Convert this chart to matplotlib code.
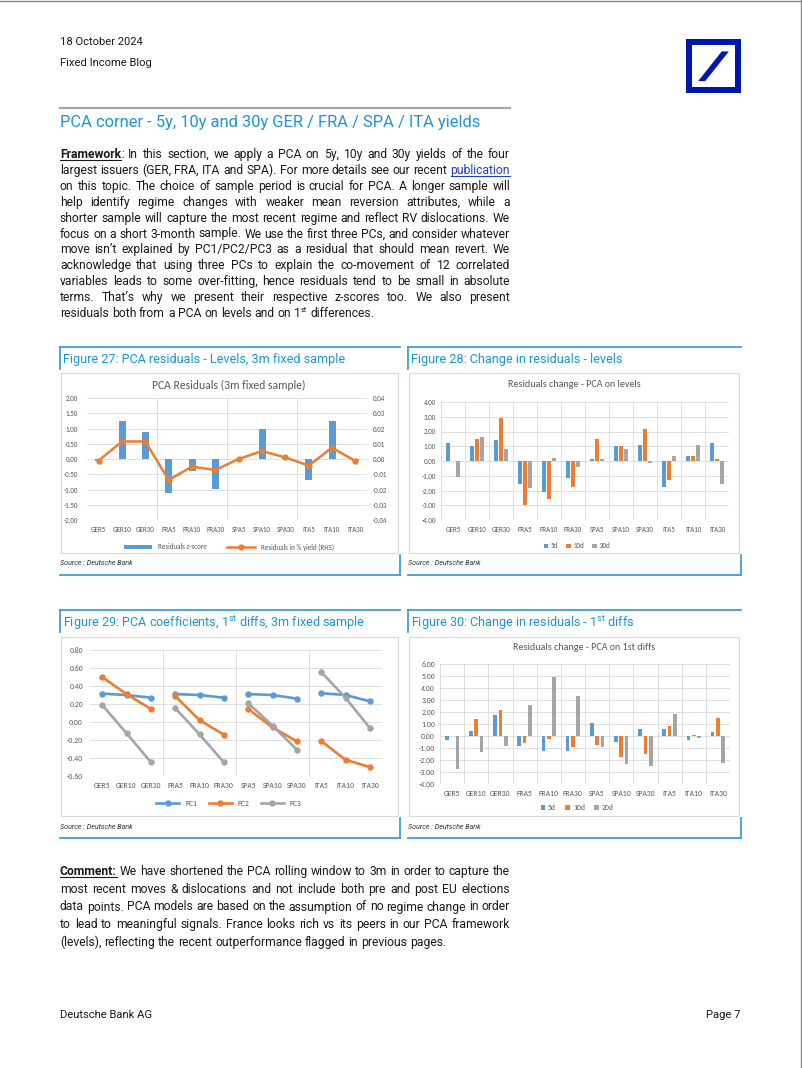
import numpy as np
import matplotlib
matplotlib.use("Agg")
import matplotlib.pyplot as plt
from matplotlib import font_manager as fm
from matplotlib.lines import Line2D
from matplotlib.patches import Rectangle, Polygon
from matplotlib.ticker import FormatStrFormatter

# ---- data ----
cats = ["GER5", "GER10", "GER30", "FRA5", "FRA10", "FRA30",
        "SPA5", "SPA10", "SPA30", "ITA5", "ITA10", "ITA30"]

# Figure 27
z_score = [-0.08, 1.24, 0.89, -1.13, -0.39, -0.98, 0.01, 0.99, 0.08, -0.68, 1.26, -0.08]
resid_yield = [-0.001, 0.0115, 0.0115, -0.0137, -0.005, -0.0072,
               0.0, 0.0052, 0.001, -0.0043, 0.0074, -0.0013]

# Figure 28
lvl_5d = [1.24, 1.02, 1.40, -1.58, -2.12, -1.18, 0.15, 1.02, 1.08, -1.74, 0.34, 1.24]
lvl_10d = [0.0, 1.47, 2.94, -2.98, -2.55, -1.74, 1.49, 1.02, 2.15, -1.29, 0.32, 0.15]
lvl_20d = [-1.06, 1.60, 0.81, -1.83, 0.23, -0.41, 0.15, 0.81, -0.15, 0.32, 1.08, -1.58]

# Figure 29
pc1 = [0.315, 0.30, 0.27, 0.31, 0.30, 0.27, 0.31, 0.30, 0.26, 0.32, 0.30, 0.23]
pc2 = [0.50, 0.31, 0.145, 0.29, 0.02, -0.14, 0.145, -0.06, -0.215, -0.21, -0.42, -0.50]
pc3 = [0.19, -0.125, -0.445, 0.155, -0.137, -0.448, 0.21, -0.04, -0.307, 0.555, 0.27, -0.067]

# Figure 30
d1_5d = [-0.36, 0.39, 1.76, -0.84, -1.26, -1.28, 1.12, -0.53, 0.61, 0.59, -0.36, 0.34]
d1_10d = [0.0, 1.40, 2.18, -0.56, -0.22, -0.95, -0.73, -1.79, -1.51, 0.81, 0.05, 1.54]
d1_20d = [-2.71, -1.31, -0.81, 2.57, 4.94, 3.35, -0.95, -2.32, -2.49, 1.82, -0.17, -2.26]

para1 = [
    "*Framework*: In this section, we apply a PCA on 5y, 10y and 30y yields of the four",
    "largest issuers (GER, FRA, ITA and SPA). For more details see our recent _publication_",
    "on this topic. The choice of sample period is crucial for PCA. A longer sample will",
    "help identify regime changes with weaker mean reversion attributes, while a",
    "shorter sample will capture the most recent regime and reflect RV dislocations. We",
    "focus on a short 3-month sample. We use the first three PCs, and consider whatever",
    "move isn\u2019t explained by PC1/PC2/PC3 as a residual that should mean revert. We",
    "acknowledge that using three PCs to explain the co-movement of 12 correlated",
    "variables leads to some over-fitting, hence residuals tend to be small in absolute",
    "terms. That\u2019s why we present their respective z-scores too. We also present",
    "residuals both from a PCA on levels and on 1^st differences.",
]
para2 = [
    "*Comment:* We have shortened the PCA rolling window to 3m in order to capture the",
    "most recent moves & dislocations and not include both pre and post EU elections",
    "data points. PCA models are based on the assumption of no regime change in order",
    "to lead to meaningful signals. France looks rich vs its peers in our PCA framework",
    "(levels), reflecting the recent outperformance flagged in previous pages.",
]

# ---- fonts / colours ----
names = {f.name for f in fm.fontManager.ttflist}
BODY = "Liberation Sans Narrow" if "Liberation Sans Narrow" in names else "Roboto"
CHART = "Carlito" if "Carlito" in names else "Lato"
plt.rcParams["font.family"] = [CHART, "DejaVu Sans"]
plt.rcParams["mathtext.fontset"] = "custom"
plt.rcParams["mathtext.rm"] = BODY
plt.rcParams["mathtext.it"] = BODY + ":italic"
plt.rcParams["mathtext.bf"] = BODY + ":bold"

DB_BLUE = "#0018A8"
ACCENT = "#1B95D3"
LINE_BLUE = "#3A9FD8"
LINK = "#1F3BD1"
TXT = "#1a1a1a"
GRID = "#D9D9D9"
TICK = "#595959"
C1, C2, C3 = "#5B9BD5", "#ED7D31", "#A5A5A5"

W, H = 802, 1068
fig = plt.figure(figsize=(W / 100, H / 100), dpi=100)
renderer = fig.canvas.get_renderer()


def fx(x):
    return x / W


def fy(y):
    return 1 - y / H


def seg_line(x0, y0, x1, y1, color, lw):
    fig.add_artist(Line2D([fx(x0), fx(x1)], [fy(y0), fy(y1)],
                          transform=fig.transFigure, color=color, lw=lw))


def width_of(t):
    return t.get_window_extent(renderer).width


def size_for(s, width, **kw):
    t = fig.text(0, 0, s, fontsize=10, **kw)
    w = width_of(t)
    t.remove()
    return 10 * width / w


def axes_px(x0, y0, x1, y1):
    return fig.add_axes([fx(x0), fy(y1), (x1 - x0) / W, (y1 - y0) / H])


# ---- justified paragraphs ----
def parse_word(w):
    if w.startswith("*"):
        core, rest = w[1:].split("*")
        segs = [(core, "bold_ul")]
        if rest:
            segs.append((rest, ""))
        return segs
    if w.startswith("_"):
        return [(w.strip("_"), "link")]
    if "^" in w:
        a, b = w.split("^")
        return [(a, ""), (b, "sup")]
    return [(w, "")]


def plain(line):
    return line.replace("*", "").replace("_", "").replace("^", "")


def draw_para(lines, x0, x1, y_first, lh, size):
    p1 = fig.text(0, 0, "a a", family=BODY, fontsize=size)
    p2 = fig.text(0, 0, "aa", family=BODY, fontsize=size)
    space = width_of(p1) - width_of(p2)
    p1.remove()
    p2.remove()
    for i, line in enumerate(lines):
        yb = y_first + i * lh
        words = []
        for w in line.split():
            segs = []
            for s, st in parse_word(w):
                kw = dict(family=BODY, color=TXT, va="baseline", ha="left", fontsize=size)
                if st == "bold_ul":
                    kw["fontweight"] = "bold"
                if st == "link":
                    kw["color"] = LINK
                if st == "sup":
                    kw["fontsize"] = size * 0.6
                t = fig.text(0, 0, s, **kw)
                segs.append((t, width_of(t), st))
            words.append(segs)
        widths = [sum(s[1] for s in segs) for segs in words]
        if i == len(lines) - 1:
            gap = space
        else:
            gap = (x1 - x0 - sum(widths)) / (len(words) - 1)
        x = x0
        for segs, ww in zip(words, widths):
            for t, w, st in segs:
                dy = -size * 0.42 * 100 / 72 if st == "sup" else 0
                t.set_position((fx(x), fy(yb + dy)))
                if st in ("bold_ul", "link"):
                    c = LINK if st == "link" else TXT
                    seg_line(x, yb + 2, x + w, yb + 2, c, 0.8)
                x += w
            x += gap


# body size: widest full line just fits 450 px
maxw = 0
for ln in para1[:-1] + para2[:-1]:
    t = fig.text(0, 0, plain(ln), family=BODY, fontsize=10)
    maxw = max(maxw, width_of(t))
    t.remove()
body_size = 10 * 450 / maxw

# ---- page furniture ----
seg_line(0, 0.5, W, 0.5, "#888888", 1)
seg_line(W - 1, 0, W - 1, H, "#888888", 1)

small = size_for("Deutsche Bank AG", 93, family=BODY)
fig.text(fx(60), fy(42), "18 October 2024", fontsize=small, va="center", family=BODY, color=TXT)
fig.text(fx(60), fy(63), "Fixed Income Blog", fontsize=small, va="center", family=BODY, color=TXT)
fig.text(fx(60), fy(1015), "Deutsche Bank AG", fontsize=small, va="center", family=BODY, color=TXT)
fig.text(fx(741), fy(1015), "Page 7", fontsize=small, ha="right", va="center", family=BODY,
         color=TXT)

# logo
lx, ly, lw_, lh_ = 686, 39, 55, 54
fig.add_artist(Rectangle((fx(lx), fy(ly + lh_)), lw_ / W, lh_ / H,
                         transform=fig.transFigure, color=DB_BLUE, lw=0))
fig.add_artist(Rectangle((fx(lx + 6), fy(ly + lh_ - 6)), (lw_ - 12) / W, (lh_ - 12) / H,
                         transform=fig.transFigure, color="white", lw=0))
slash = [(0.22, 0.78), (0.35, 0.78), (0.78, 0.23), (0.65, 0.23)]
fig.add_artist(Polygon([(fx(lx + a * lw_), fy(ly + b * lh_)) for a, b in slash],
                       closed=True, transform=fig.transFigure, color=DB_BLUE, lw=0))

seg_line(60, 108, 510, 108, "#A6A6A6", 1.6)
head = "PCA corner - 5y, 10y and 30y GER / FRA / SPA / ITA yields"
fig.text(fx(60), fy(123), head, fontsize=size_for(head, 422, family=BODY), va="center",
         family=BODY, color=ACCENT)

draw_para(para1, 60, 510, 158, 15.9, body_size)
draw_para(para2, 60, 510, 875, 17.75, body_size)

title_size = size_for("Figure 27: PCA residuals - Levels, 3m fixed sample", 283, family=BODY)
src_size = size_for("Source : Deutsche Bank", 73, family=BODY, style="italic")


# ---- figure frames ----
def frame(x0, x1, top, title, box_top, box_bot, src_y, bot):
    seg_line(x0, top, x1, top, LINE_BLUE, 1.3)
    seg_line(x0, top, x0, top + 22, LINE_BLUE, 1.3)
    fig.text(fx(x0 + 3), fy(top + 13), title, fontsize=title_size, va="center", family=BODY,
             color=ACCENT)
    fig.add_artist(Rectangle((fx(x0 + 1), fy(box_bot)), (x1 - x0 - 3) / W,
                             (box_bot - box_top) / H, transform=fig.transFigure,
                             facecolor="white", edgecolor=GRID, lw=0.8, zorder=-1))
    fig.text(fx(x0), fy(src_y), "Source : Deutsche Bank", fontsize=src_size, va="center",
             family=BODY, style="italic", color="#333333")
    seg_line(x0, bot, x1, bot, LINE_BLUE, 1.3)
    seg_line(x1, bot - 20, x1, bot, LINE_BLUE, 1.3)


frame(60, 400, 347, "Figure 27: PCA residuals - Levels, 3m fixed sample", 373, 553, 563, 575)
frame(408, 741, 347, "Figure 28: Change in residuals - levels", 373, 553, 563, 575)
frame(60, 400, 610, r"Figure 29: PCA coefficients, 1$^{\rm st}$ diffs, 3m fixed sample",
      637, 816, 827, 838)
frame(408, 741, 610, r"Figure 30: Change in residuals - 1$^{\rm st}$ diffs", 637, 816, 827, 838)

x = np.arange(len(cats))


def style_ax(ax, lo, hi, n, size, ypad, vlines):
    ax.set_xlim(-0.5, 11.5)
    ax.set_ylim(lo, hi)
    ax.set_yticks(np.linspace(lo, hi, n))
    ax.yaxis.set_major_formatter(FormatStrFormatter("%.2f"))
    ax.set_xticks(x)
    ax.set_xticklabels(cats)
    ax.grid(axis="y", color=GRID, lw=0.6)
    ax.set_axisbelow(True)
    for s in ax.spines.values():
        s.set_visible(False)
    ax.tick_params(axis="both", length=0, labelsize=size, labelcolor=TICK)
    ax.tick_params(axis="y", pad=ypad)
    ax.tick_params(axis="x", pad=4.5)
    for v in vlines:
        ax.axvline(v, color=GRID, lw=0.6, zorder=0)
    ax.patch.set_alpha(0)


groups = [2.5, 5.5, 8.5]
every = np.arange(-0.5, 12, 1)

# Figure 27
ax = axes_px(87, 398, 367, 520)
style_ax(ax, -2, 2, 9, 5, 6.5, groups)
bars = ax.bar(x, z_score, width=0.3, color=C1, label="Residuals z-score")
ax2 = ax.twinx()
ax2.set_ylim(-0.04, 0.04)
ax2.set_yticks(np.linspace(-0.04, 0.04, 9))
ax2.yaxis.set_major_formatter(FormatStrFormatter("%.2f"))
for s in ax2.spines.values():
    s.set_visible(False)
ax2.tick_params(length=0, labelsize=5, labelcolor=TICK, pad=4.3)
ln, = ax2.plot(x, resid_yield, color=C2, lw=1.8, marker="o", ms=3.5,
               label="Residuals in % yield (RHS)")
fig.text(fx(229), fy(385), "PCA Residuals (3m fixed sample)", ha="center", va="center",
         fontsize=8.4, color=TICK)
ax.legend([bars, ln], ["Residuals z-score", "Residuals in % yield (RHS)"], loc="center",
          bbox_to_anchor=(fx(229), fy(547)), bbox_transform=fig.transFigure, ncol=2,
          frameon=False, fontsize=5, handlelength=4, handleheight=0.4, columnspacing=3,
          labelcolor=TICK)


# Figure 28 / 30 grouped bars
def grouped(ax, a, b, c):
    off = 0.22
    h1 = ax.bar(x - off, a, width=0.15, color=C1)
    h2 = ax.bar(x, b, width=0.15, color=C2)
    h3 = ax.bar(x + off, c, width=0.15, color=C3)
    return [h1, h2, h3]


ax = axes_px(441, 402, 729, 520)
style_ax(ax, -4, 4, 9, 5, 3.6, every)
hs = grouped(ax, lvl_5d, lvl_10d, lvl_20d)
fig.text(fx(574), fy(385), "Residuals change - PCA on levels", ha="center", va="center",
         fontsize=7.2, color=TICK)
ax.legend(hs, ["5d", "10d", "20d"], loc="center", bbox_to_anchor=(fx(577), fy(546)),
          bbox_transform=fig.transFigure, ncol=3, frameon=False, fontsize=5,
          handlelength=0.6, handleheight=0.6, handletextpad=0.4, columnspacing=1.2,
          labelcolor=TICK)

# Figure 29
ax = axes_px(90, 650, 382, 776)
style_ax(ax, -0.6, 0.8, 8, 5.5, 5, groups)
for g in range(4):
    sl = slice(3 * g, 3 * g + 3)
    l1, = ax.plot(x[sl], pc1[sl], color=C1, lw=1.9, marker="o", ms=3.6)
    l2, = ax.plot(x[sl], pc2[sl], color=C2, lw=1.9, marker="o", ms=3.6)
    l3, = ax.plot(x[sl], pc3[sl], color=C3, lw=1.9, marker="o", ms=3.6)
ax.legend([l1, l2, l3], ["PC1", "PC2", "PC3"], loc="center", bbox_to_anchor=(fx(229), fy(803)),
          bbox_transform=fig.transFigure, ncol=3, frameon=False, fontsize=5.5,
          handlelength=3, columnspacing=1.5, labelcolor=TICK)

# Figure 30
ax = axes_px(440, 664, 730, 784)
style_ax(ax, -4, 6, 11, 5.5, 3.6, every)
hs = grouped(ax, d1_5d, d1_10d, d1_20d)
fig.text(fx(584), fy(648), "Residuals change - PCA on 1st diffs", ha="center", va="center",
         fontsize=7.2, color=TICK)
ax.legend(hs, ["5d", "10d", "20d"], loc="center", bbox_to_anchor=(fx(577), fy(808)),
          bbox_transform=fig.transFigure, ncol=3, frameon=False, fontsize=5.5,
          handlelength=0.6, handleheight=0.6, handletextpad=0.4, columnspacing=1.2,
          labelcolor=TICK)

fig.savefig("out.png", dpi=100, facecolor="white")
